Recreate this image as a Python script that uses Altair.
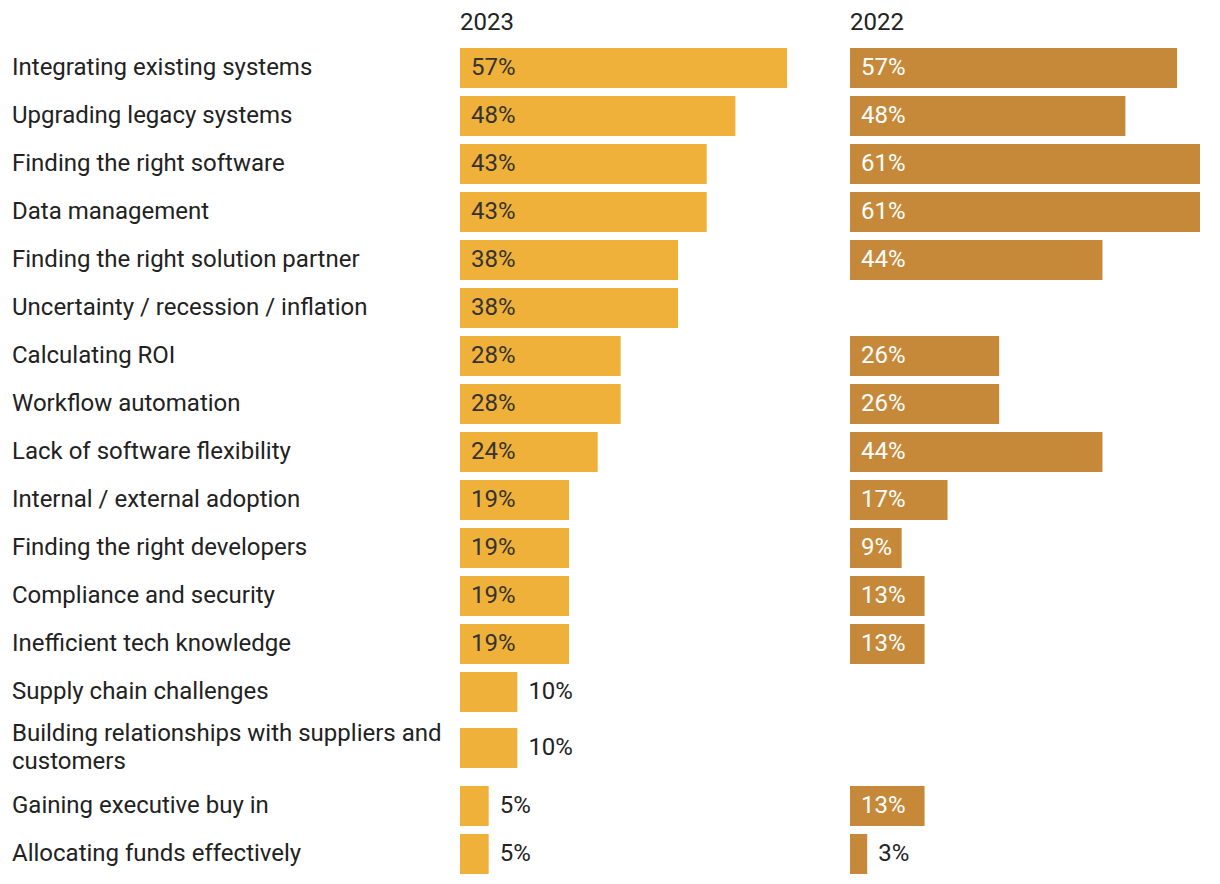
import altair as alt
import pandas as pd

categories = [
    "Integrating existing systems",
    "Upgrading legacy systems",
    "Finding the right software",
    "Data management",
    "Finding the right solution partner",
    "Uncertainty / recession / inflation",
    "Calculating ROI",
    "Workflow automation",
    "Lack of software flexibility",
    "Internal / external adoption",
    "Finding the right developers",
    "Compliance and security",
    "Inefficient tech knowledge",
    "Supply chain challenges",
    "Building relationships with suppliers and customers",
    "Gaining executive buy in",
    "Allocating funds effectively",
]
display_labels = [
    "Integrating existing systems",
    "Upgrading legacy systems",
    "Finding the right software",
    "Data management",
    "Finding the right solution partner",
    "Uncertainty / recession / inflation",
    "Calculating ROI",
    "Workflow automation",
    "Lack of software flexibility",
    "Internal / external adoption",
    "Finding the right developers",
    "Compliance and security",
    "Inefficient tech knowledge",
    "Supply chain challenges",
    "Building relationships with suppliers and\ncustomers",
    "Gaining executive buy in",
    "Allocating funds effectively",
]
values_2023 = [57, 48, 43, 43, 38, 38, 28, 28, 24, 19, 19, 19, 19, 10, 10, 5, 5]
values_2022 = [57, 48, 61, 61, 44, None, 26, 26, 44, 17, 9, 13, 13, None, None, 13, 3]

FONT = "Roboto"
FS = 24
LINE_H = 28
C2023 = "#F0B13B"
C2022 = "#C6893A"
TEXT = "#222222"

# extra vertical room for wrapped labels, pushed onto the rows below
EXTRA_PER_LINE = LINE_H - 10
shifts = []
label_shifts = []
acc = 0
for lab in display_labels:
    n_extra = lab.count("\n")
    extra = n_extra * EXTRA_PER_LINE
    s = acc + extra * 8 / 18
    shifts.append(s)
    label_shifts.append(s - n_extra * LINE_H / 2)
    acc += extra

labels_df = pd.DataFrame({"category": categories, "label": display_labels, "shift": label_shifts})
df23 = pd.DataFrame({"category": categories, "value": values_2023, "shift": shifts})
df22 = pd.DataFrame({"category": categories, "value": values_2022, "shift": shifts}).dropna()
df23["text"] = df23["value"].map(lambda v: f"{int(v)}%")
df22["text"] = df22["value"].map(lambda v: f"{int(v)}%")

yscale = alt.Scale(type="band", domain=categories, paddingInner=0, paddingOuter=0)
yenc = alt.Y("category:N", sort=categories, axis=None, scale=yscale)
ytext = alt.Y("category:N", sort=categories, axis=None, scale=yscale, bandPosition=0.5)
xscale = alt.Scale(domain=[0, 61], nice=False, zero=True)
shift = alt.ExprRef(expr="datum.shift")

title_kw = dict(anchor="start", fontSize=FS, font=FONT, fontWeight="normal",
                color=TEXT, offset=9)

labels = alt.Chart(labels_df).mark_text(
    align="left", baseline="middle", font=FONT, fontSize=FS, color=TEXT,
    lineBreak="\n", lineHeight=LINE_H, yOffset=shift
).encode(
    y=ytext,
    x=alt.value(0),
    text="label:N",
).properties(width=438, height=alt.Step(48), title=alt.Title(" ", **title_kw))


def panel(df, color, year, threshold, inside_color):
    base = alt.Chart(df)
    bars = base.mark_bar(color=color, height=40, yOffset=shift).encode(
        y=yenc,
        x=alt.X("value:Q", scale=xscale, axis=None),
    )
    inside = base.transform_filter(f"datum.value >= {threshold}").transform_calculate(
        zero="0"
    ).mark_text(
        align="left", baseline="middle", dx=11, font=FONT, fontSize=FS,
        color=inside_color, yOffset=shift
    ).encode(y=ytext, x=alt.X("zero:Q", scale=xscale, axis=None), text="text:N")
    outside = base.transform_filter(f"datum.value < {threshold}").mark_text(
        align="left", baseline="middle", dx=11, font=FONT, fontSize=FS,
        color=TEXT, yOffset=shift
    ).encode(y=ytext, x=alt.X("value:Q", scale=xscale, axis=None), text="text:N")
    return alt.layer(bars, inside, outside).properties(
        width=350, height=alt.Step(48), title=alt.Title(year, **title_kw)
    )


p23 = panel(df23, C2023, "2023", 15, "#333333")
p22 = panel(df22, C2022, "2022", 5, "#FFFFFF")

chart = alt.hconcat(
    labels, alt.hconcat(p23, p22, spacing=40), spacing=10
).properties(
    padding={"left": 12, "top": 11, "right": 0, "bottom": 0}
).configure_view(stroke=None)

chart.save("out.html", embed_options={"renderer": "svg", "actions": False})
